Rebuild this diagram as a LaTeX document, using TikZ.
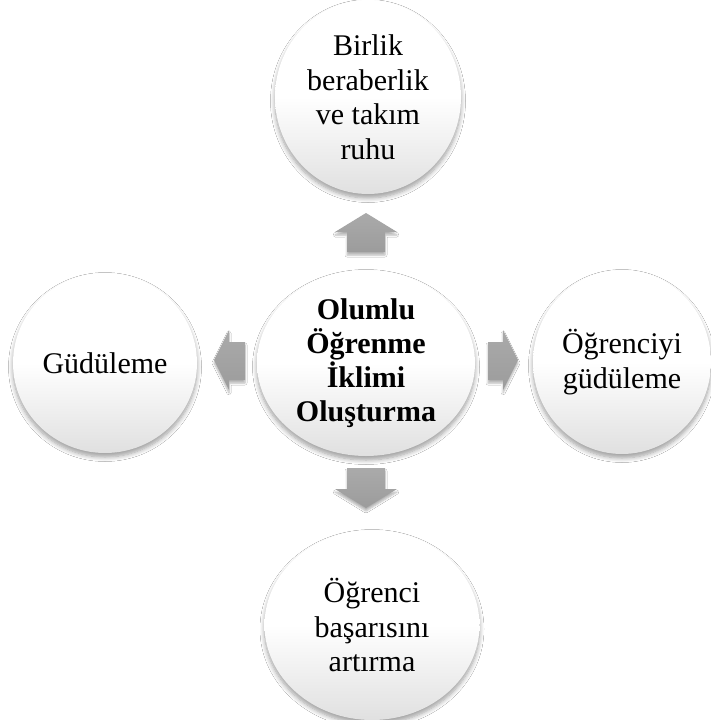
\documentclass[tikz,border=0pt]{standalone}
\usepackage{fontspec}
\setmainfont{Liberation Serif}
\usetikzlibrary{shapes.geometric,shadows.blur}
\definecolor{arrowgray}{HTML}{AAAAAA}
\definecolor{arrowdark}{HTML}{9C9C9C}
\definecolor{bubblebottom}{HTML}{E0E0E0}
\pgfdeclareverticalshading{bubbleshade}{100bp}{color(0bp)=(bubblebottom); color(25bp)=(bubblebottom); color(50bp)=(white); color(100bp)=(white)}
\tikzset{
  bubble/.style={ellipse, inner sep=0pt, align=center, text=black,
    font=\fontsize{30}{34.5}\selectfont,
    shading=bubbleshade,
    blur shadow={shadow xshift=0pt, shadow yshift=-4pt, shadow blur steps=8, shadow opacity=38, shadow blur radius=4.5pt}},
  bigarrow/.style={top color=arrowgray, bottom color=arrowdark, draw=none,
    blur shadow={shadow xshift=0pt, shadow yshift=-3pt, shadow blur steps=5, shadow opacity=30, shadow blur radius=2pt}}
}
\begin{document}
\begin{tikzpicture}[x=1pt,y=-1pt]
\useasboundingbox[fill=white] (0,0) rectangle (711,720);
% arrows
\path[bigarrow] (366,213) -- (397,232) -- (385,232) -- (385,252) -- (347,252) -- (347,232) -- (335,232) -- cycle;
\path[bigarrow] (214,360) -- (229,330) -- (229,342) -- (245,342) -- (245,380) -- (229,380) -- (229,390) -- cycle;
\path[bigarrow] (518,360) -- (503,330) -- (503,342) -- (488,342) -- (488,380) -- (503,380) -- (503,390) -- cycle;
\path[bigarrow] (366,508) -- (397,489) -- (385,489) -- (385,468) -- (347,468) -- (347,489) -- (335,489) -- cycle;
% bubbles
\node[bubble, minimum width=186pt, minimum height=194pt] (top) at (368,97) {Birlik\\beraberlik\\ve takım\\ruhu};
\node[bubble, minimum width=218pt, minimum height=186pt, font=\fontsize{30}{34}\selectfont\bfseries] (center) at (366,363) {Olumlu\\Öğrenme\\İklimi\\Oluşturma};
\node[bubble, minimum width=184pt, minimum height=180pt] (left) at (105,363) {Güdüleme};
\node[bubble, minimum width=178pt, minimum height=184pt] (right) at (622,362) {Öğrenciyi\\güdüleme};
\node[bubble, minimum width=215pt, minimum height=190pt] (bottom) at (372,625) {Öğrenci\\başarısını\\artırma};
\end{tikzpicture}
\end{document}
